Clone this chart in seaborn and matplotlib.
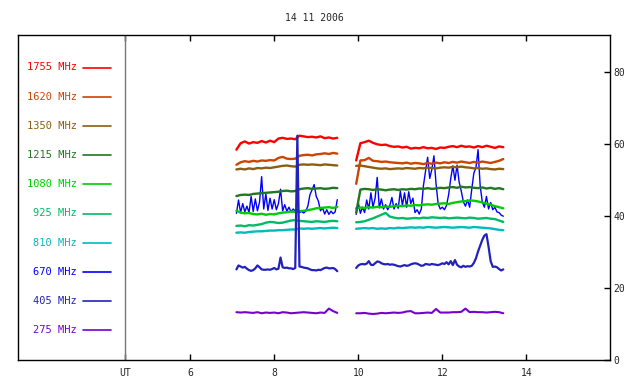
import numpy as np
import pandas as pd
import matplotlib
matplotlib.use("Agg")
import matplotlib.pyplot as plt
from matplotlib.lines import Line2D
import seaborn as sns

# ---------------- data ----------------
title_text = "14 11 2006"
freqs = ["1755", "1620", "1350", "1215", "1080", "925", "810", "670", "405", "275"]
colors = ["#ff0000", "#cc4400", "#8b5e10", "#227722", "#00cc00",
          "#00bb66", "#00bbbb", "#0000ff", "#2222bb", "#7700cc"]
x_ticks = [6, 8, 10, 12, 14]
y_ticks = [0, 20, 40, 60, 80]

# time grids (UT hours): coarse 0.1 h, fine 0.05 h
t_a = np.linspace(7.10, 9.50, 25)
t_b = np.linspace(9.95, 13.45, 36)
tf_a = np.linspace(7.10, 9.50, 49)
tf_b = np.linspace(9.95, 13.45, 71)

f1755_a = [58.5, 60.3, 60.8, 60.2, 60.6, 60.4, 60.9, 60.5, 61.0, 60.6, 61.6, 61.8, 61.5,
           61.6, 61.4, 62.4, 62.2, 62.0, 62.1, 61.9, 62.2, 61.7, 61.9, 61.6, 61.8]
f1755_b = [55.5, 60.3, 60.6, 61.0, 60.4, 60.0, 59.8, 59.9, 59.5, 59.3, 59.4, 59.1, 59.3,
           58.8, 59.0, 58.9, 59.2, 58.9, 59.0, 58.7, 59.1, 59.0, 59.3, 59.5, 59.2, 59.6,
           59.3, 59.4, 59.1, 59.5, 59.2, 59.6, 59.3, 59.0, 59.4, 59.2]

f1620_a = [54.3, 55.0, 55.3, 55.1, 55.4, 55.2, 55.5, 55.4, 55.6, 55.5, 56.2, 56.5, 56.0,
           55.9, 56.0, 56.8, 57.0, 57.1, 56.9, 57.2, 57.3, 57.5, 57.3, 57.6, 57.4]
f1620_b = [49.0, 55.5, 55.6, 56.2, 55.4, 55.3, 55.1, 55.2, 55.0, 54.9, 54.8, 54.7, 54.9,
           54.6, 54.8, 54.7, 54.5, 54.8, 54.6, 54.9, 54.7, 55.0, 54.8, 55.1, 54.9, 55.2,
           55.0, 54.8, 55.1, 54.9, 55.2, 55.0, 54.8, 55.1, 55.4, 55.9]

f1350_a = [53.0, 53.2, 53.0, 53.3, 53.1, 53.4, 53.3, 53.5, 53.4, 53.6, 53.8, 54.0, 54.1,
           53.9, 53.8, 54.3, 54.4, 54.3, 54.4, 54.3, 54.2, 54.4, 54.3, 54.2, 54.1]
f1350_b = [54.0, 54.1, 53.9, 53.7, 53.5, 53.3, 53.2, 53.3, 53.1, 53.2, 53.3, 53.2, 53.4,
           53.3, 53.2, 53.4, 53.3, 53.5, 53.4, 53.3, 53.5, 53.6, 53.5, 53.7, 53.6, 53.8,
           53.6, 53.5, 53.3, 53.4, 53.2, 53.3, 53.1, 53.0, 53.2, 53.1]

f1215_a = [45.6, 45.9, 46.0, 45.9, 46.2, 46.3, 46.4, 46.5, 46.6, 46.7, 46.8, 47.0, 47.1,
           46.9, 47.0, 47.5, 47.7, 47.8, 47.6, 47.7, 47.8, 47.6, 47.7, 47.9, 47.8]
f1215_b = [41.0, 47.4, 47.6, 47.5, 47.3, 47.5, 47.4, 47.2, 47.4, 47.5, 47.3, 47.5, 47.4,
           47.6, 47.5, 47.7, 47.6, 47.8, 47.6, 47.7, 47.9, 47.8, 48.0, 48.1, 47.9, 48.2,
           48.0, 48.1, 47.9, 47.8, 48.0, 47.7, 47.9, 47.6, 47.8, 47.5]

f1080_a = [41.5, 41.0, 40.8, 40.9, 40.6, 40.5, 40.7, 40.4, 40.6, 40.5, 40.8, 41.0, 41.1,
           41.3, 41.2, 41.4, 41.5, 41.7, 41.9, 42.2, 42.3, 42.4, 42.5, 42.3, 42.6]
f1080_b = [42.2, 42.4, 42.3, 42.5, 42.4, 42.6, 42.5, 42.7, 42.6, 42.8, 42.9, 42.8, 43.0,
           42.9, 43.1, 43.0, 43.2, 43.3, 43.2, 43.4, 43.5, 43.6, 43.4, 43.7, 43.9, 44.1,
           44.2, 44.4, 44.3, 44.1, 43.8, 43.5, 43.2, 42.8, 42.5, 42.2]

f925_a = [37.3, 37.4, 37.2, 37.5, 37.4, 37.6, 37.8, 38.2, 38.4, 38.3, 38.1, 38.2, 38.5,
          38.8, 38.9, 38.7, 38.6, 38.5, 38.4, 38.6, 38.5, 38.4, 38.6, 38.7, 38.6]
f925_b = [38.3, 38.4, 38.6, 39.0, 39.4, 39.9, 40.4, 40.9, 39.9, 39.6, 39.4, 39.5, 39.3,
          39.4, 39.5, 39.4, 39.6, 39.5, 39.7, 39.6, 39.5, 39.6, 39.4, 39.5, 39.6, 39.5,
          39.4, 39.6, 39.5, 39.3, 39.4, 39.5, 39.3, 39.2, 38.8, 38.4]

f810_a = [35.4, 35.5, 35.4, 35.6, 35.7, 35.8, 35.8, 35.9, 36.0, 36.0, 36.1, 36.1, 36.2,
          36.3, 36.3, 36.6, 36.5, 36.6, 36.5, 36.6, 36.7, 36.6, 36.7, 36.8, 36.7]
f810_b = [36.5, 36.6, 36.7, 36.6, 36.7, 36.5, 36.6, 36.5, 36.7, 36.6, 36.8, 36.7, 36.8,
          36.9, 36.8, 36.9, 36.8, 37.0, 36.9, 36.8, 36.9, 37.0, 36.9, 36.8, 36.9, 37.0,
          36.9, 36.8, 37.0, 36.9, 36.8, 36.7, 36.6, 36.4, 36.2, 36.1]

f670_a = [40.8, 44.5, 41.0, 43.5, 41.2, 42.8, 41.0, 45.5, 41.3, 44.8, 41.5, 43.9, 51.0,
          42.0, 46.2, 41.6, 45.0, 42.0, 44.6, 41.8, 43.5, 47.5, 41.5, 43.2, 41.4, 42.5,
          41.2, 42.0, 41.4, 41.8, 41.0, 41.3, 40.9, 41.4, 42.8, 46.0, 47.3, 48.8, 45.5,
          44.2, 41.5, 42.3, 40.6, 41.8, 40.5, 41.4, 40.7, 41.2, 44.6]
f670_b = [40.5, 43.8, 40.8, 42.5, 41.0, 44.5, 42.0, 46.5, 42.5, 45.0, 50.8, 42.3, 44.8,
          42.0, 43.2, 41.8, 43.0, 45.2, 42.0, 43.5, 42.2, 47.0, 43.0, 46.5, 42.5, 46.8,
          43.5, 45.0, 41.0, 41.8, 40.6, 42.0, 48.5, 52.5, 56.4, 50.5, 53.0, 56.8, 49.0,
          43.5, 42.0, 42.5, 41.8, 43.0, 46.0, 50.5, 54.0, 50.0, 54.2, 49.5, 47.0, 44.0,
          42.8, 44.5, 42.5, 47.5, 52.0, 53.5, 58.5, 48.5, 44.0, 42.5, 45.5, 42.0, 43.8,
          41.8, 42.5, 41.2, 41.0, 40.3, 40.0]

f405_a = [25.2, 26.3, 26.0, 25.7, 25.9, 25.4, 25.0, 24.8, 25.0, 25.5, 26.3, 25.8, 25.2,
          25.1, 25.1, 25.2, 25.1, 25.3, 25.6, 25.2, 25.4, 28.5, 25.8, 25.6, 25.7, 25.5,
          25.5, 25.3, 25.6, 62.4, 26.0, 25.9, 25.7, 25.6, 25.5, 25.2, 25.0, 25.0, 24.9,
          25.1, 25.0, 25.3, 25.6, 25.7, 25.5, 25.5, 25.6, 25.3, 24.7]
f405_b = [25.6, 26.3, 26.6, 26.7, 26.6, 26.8, 27.5, 26.5, 26.4, 26.9, 27.4, 27.3, 26.9,
          26.7, 26.6, 26.7, 26.5, 26.6, 26.5, 26.3, 26.1, 26.0, 26.2, 26.4, 26.2, 26.3,
          26.6, 26.8, 26.9, 26.8, 26.5, 26.2, 26.3, 26.7, 26.6, 26.5, 26.7, 26.6, 26.5,
          26.4, 26.6, 26.9, 26.7, 27.2, 26.6, 27.5, 26.4, 27.8, 26.5, 26.0, 25.8, 26.2,
          25.9, 26.1, 26.0, 26.2, 27.0, 28.3, 30.2, 31.8, 33.4, 34.6, 35.0, 31.5, 27.5,
          25.9, 26.0, 25.8, 25.3, 24.9, 25.2]

f275_a = [13.3, 13.2, 13.3, 13.2, 13.1, 13.3, 13.0, 13.2, 13.1, 13.2, 13.0, 13.3, 13.2,
          13.0, 13.1, 13.2, 13.3, 13.2, 13.1, 13.0, 13.2, 13.1, 14.3, 13.6, 13.1]
f275_b = [13.0, 13.0, 13.1, 12.9, 12.8, 12.9, 13.1, 13.0, 13.1, 13.2, 13.1, 13.2, 13.5,
          13.6, 13.0, 13.0, 13.1, 13.2, 13.1, 14.2, 13.2, 13.2, 13.2, 13.3, 13.3, 13.4,
          14.3, 13.3, 13.4, 13.3, 13.3, 13.2, 13.3, 13.4, 13.3, 13.0]

series = {
    "1755": (t_a, f1755_a, t_b, f1755_b),
    "1620": (t_a, f1620_a, t_b, f1620_b),
    "1350": (t_a, f1350_a, t_b, f1350_b),
    "1215": (t_a, f1215_a, t_b, f1215_b),
    "1080": (t_a, f1080_a, t_b, f1080_b),
    "925": (t_a, f925_a, t_b, f925_b),
    "810": (t_a, f810_a, t_b, f810_b),
    "670": (tf_a, f670_a, tf_b, f670_b),
    "405": (tf_a, f405_a, tf_b, f405_b),
    "275": (t_a, f275_a, t_b, f275_b),
}

# ---------------- styling ----------------
sns.set_style("white")
plt.rcParams["font.family"] = ["DejaVu Sans Mono"]
plt.rcParams["font.size"] = 7

W, H = 640, 384
fig = plt.figure(figsize=(W / 100, H / 100), dpi=100)
L, R, T, B = 18.3, 609.6, 35.0, 360.0
ax = fig.add_axes([L / W, 1 - B / H, (R - L) / W, (B - T) / H])

lw = {"670": 1.0, "405": 1.6, "275": 1.5}
draw_order = ["670", "275", "810", "925", "1080", "1215", "1350", "1620", "1755", "405"]
pal = dict(zip(freqs, colors))
for z, f in enumerate(draw_order):
    ta, va, tb, vb = series[f]
    df = pd.DataFrame({
        "t": np.concatenate([ta, tb]),
        "v": np.concatenate([va, vb]),
        "seg": ["a"] * len(ta) + ["b"] * len(tb),
    })
    sns.lineplot(data=df, x="t", y="v", units="seg", estimator=None, sort=False,
                 color=pal[f], lw=lw.get(f, 1.7), ax=ax, legend=False, zorder=2 + z)

ut_x = 4.46
ax.axvline(ut_x, color="#777777", lw=1.0, zorder=1)
ax.set_xlim(1.91, 15.98)
ax.set_ylim(0, 90.4)
ax.set_xlabel("")
ax.set_ylabel("")

ax.set_xticks([ut_x] + x_ticks)
ax.set_xticklabels(["UT"] + [str(v) for v in x_ticks])
ax.yaxis.tick_right()
ax.set_yticks(y_ticks)
ax.set_yticklabels([str(v) for v in y_ticks])
ax.tick_params(axis="x", direction="in", length=4, width=1, color="black",
               top=True, bottom=True, pad=6, labelsize=7)
ax.tick_params(axis="y", direction="in", length=4, width=1, color="black",
               right=True, left=False, pad=3, labelsize=7)
for s in ax.spines.values():
    s.set_color("black")
    s.set_linewidth(1.0)

fig.text(314 / W, 1 - 18 / H, title_text, ha="center", va="center", fontsize=7)

# legend column on the left
leg_y0, leg_dy = 67.5, 29.2
for i, (f, c) in enumerate(zip(freqs, colors)):
    yp = 1 - (leg_y0 + i * leg_dy) / H
    fig.text(77 / W, yp, f"{f} MHz", color=c, ha="right", va="center", fontsize=7.5)
    fig.add_artist(Line2D([83 / W, 111 / W], [yp, yp], color=c, lw=1.2))

fig.savefig("out.png", dpi=100, facecolor="white")
